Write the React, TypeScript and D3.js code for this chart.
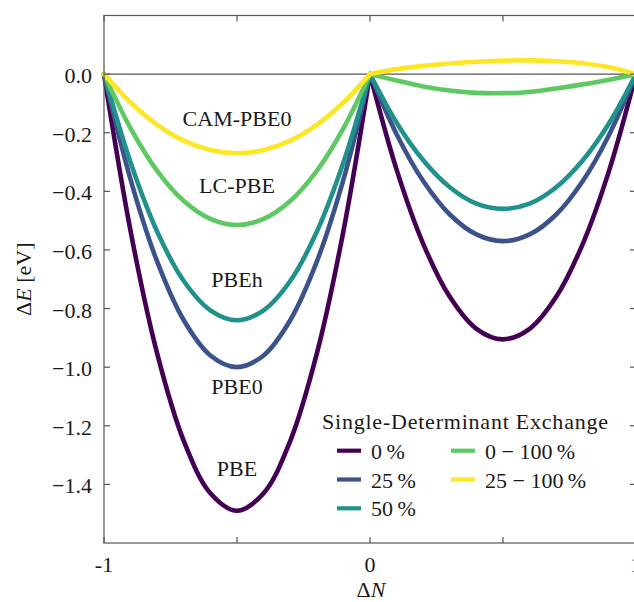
import React from "react";
import * as d3 from "d3";

const X_LEFT = [-1, -0.9, -0.8, -0.7, -0.6, -0.5, -0.4, -0.3, -0.2, -0.1, 0];
const X_RIGHT = [0, 0.1, 0.2, 0.3, 0.4, 0.5, 0.6, 0.7, 0.8, 0.9, 1];

const PBE_LEFT = [0, -0.536, -0.954, -1.252, -1.43, -1.49, -1.43, -1.252, -0.954, -0.536, 0];
const PBE_RIGHT = [0, -0.326, -0.579, -0.76, -0.869, -0.905, -0.869, -0.76, -0.579, -0.326, 0];
const PBE0_LEFT = [0, -0.36, -0.64, -0.84, -0.96, -1.0, -0.96, -0.84, -0.64, -0.36, 0];
const PBE0_RIGHT = [0, -0.205, -0.365, -0.479, -0.547, -0.57, -0.547, -0.479, -0.365, -0.205, 0];
const PBEH_LEFT = [0, -0.302, -0.538, -0.706, -0.806, -0.84, -0.806, -0.706, -0.538, -0.302, 0];
const PBEH_RIGHT = [0, -0.166, -0.294, -0.386, -0.442, -0.46, -0.442, -0.386, -0.294, -0.166, 0];
const LCPBE_LEFT = [0, -0.185, -0.33, -0.433, -0.494, -0.515, -0.494, -0.433, -0.33, -0.185, 0];
const LCPBE_RIGHT = [0, -0.022, -0.042, -0.056, -0.064, -0.065, -0.061, -0.049, -0.035, -0.019, 0];
const CAM_LEFT = [0, -0.097, -0.173, -0.227, -0.259, -0.27, -0.259, -0.227, -0.173, -0.097, 0];
const CAM_RIGHT = [0, 0.017, 0.028, 0.036, 0.042, 0.046, 0.047, 0.044, 0.037, 0.023, 0];

const SERIES_NAMES = ["0 %", "25 %", "50 %", "0 − 100 %", "25 − 100 %"];
const SERIES_COLORS = ["#440154", "#3b528b", "#21918c", "#5ec962", "#fde725"];
const SERIES_LEFT = [PBE_LEFT, PBE0_LEFT, PBEH_LEFT, LCPBE_LEFT, CAM_LEFT];
const SERIES_RIGHT = [PBE_RIGHT, PBE0_RIGHT, PBEH_RIGHT, LCPBE_RIGHT, CAM_RIGHT];

const CURVE_LABELS = ["PBE", "PBE0", "PBEh", "LC-PBE", "CAM-PBE0"];
const CURVE_LABEL_X = [-0.5, -0.5, -0.5, -0.5, -0.5];
const CURVE_LABEL_Y = [-1.373, -1.093, -0.725, -0.405, -0.176];

const Y_TICKS = [0.0, -0.2, -0.4, -0.6, -0.8, -1.0, -1.2, -1.4];
const X_TICKS = [-1, -0.5, 0, 0.5, 1];
const X_TICK_LABELS = ["-1", "", "0", "", "1"];

const W = 634;
const H = 602;
const FONT = '"Liberation Serif", "DejaVu Serif", serif';

export default function App() {
  const left = 104, right = 636, top = 15.5, bottom = 543;
  const x = d3.scaleLinear().domain([-1, 1]).range([left, right]);
  const y = d3.scaleLinear().domain([-1.6, 0.2]).range([bottom, top]);
  const line = d3
    .line<[number, number]>()
    .x((d) => x(d[0]))
    .y((d) => y(d[1]))
    .curve(d3.curveCatmullRom.alpha(0.5));

  const spine = "#555";
  const txt = "#1a1a1a";
  const fs = 22;
  const ts: React.CSSProperties = { fontFamily: FONT, fontSize: fs };

  const legendRows = [
    { i: 0, col: 0, row: 0 },
    { i: 1, col: 0, row: 1 },
    { i: 2, col: 0, row: 2 },
    { i: 3, col: 1, row: 0 },
    { i: 4, col: 1, row: 1 },
  ];
  const legColX = [337, 451];
  const legRowY = [450.7, 479.5, 508.3];

  return (
    <svg
      width={W}
      height={H}
      style={{ position: "absolute", left: 0, top: 0, background: "#fff", fontFamily: FONT }}
    >
      <rect x={0} y={0} width={W} height={H} fill="#fff" />
      <line x1={left} x2={right} y1={y(0)} y2={y(0)} stroke="#555" strokeWidth={1.1} />

      {SERIES_LEFT.map((s, i) => (
        <g key={i}>
          <path
            d={line(X_LEFT.map((xv, j) => [xv, s[j]]) as [number, number][]) || ""}
            fill="none"
            stroke={SERIES_COLORS[i]}
            strokeWidth={4.6}
            strokeLinejoin="round"
            strokeLinecap="round"
          />
          <path
            d={line(X_RIGHT.map((xv, j) => [xv, SERIES_RIGHT[i][j]]) as [number, number][]) || ""}
            fill="none"
            stroke={SERIES_COLORS[i]}
            strokeWidth={4.6}
            strokeLinejoin="round"
            strokeLinecap="round"
          />
        </g>
      ))}

      <rect x={left} y={top} width={right - left} height={bottom - top} fill="none" stroke={spine} strokeWidth={1.2} />

      {Y_TICKS.map((t) => (
        <g key={t}>
          <line x1={left} x2={left + 6} y1={y(t)} y2={y(t)} stroke={spine} strokeWidth={1.2} />
          <line x1={right - 6} x2={right} y1={y(t)} y2={y(t)} stroke={spine} strokeWidth={1.2} />
          <text x={92} y={y(t) + 9} textAnchor="end" style={ts} fill={txt}>
            {t === 0 ? "0.0" : "\u2212" + Math.abs(t).toFixed(1)}
          </text>
        </g>
      ))}

      {X_TICKS.map((t, i) => (
        <g key={t}>
          <line x1={x(t)} x2={x(t)} y1={bottom} y2={bottom - 6} stroke={spine} strokeWidth={1.2} />
          <line x1={x(t)} x2={x(t)} y1={top} y2={top + 6} stroke={spine} strokeWidth={1.2} />
          {X_TICK_LABELS[i] && (
            <text x={x(t)} y={572} textAnchor="middle" style={ts} fill={txt}>
              {X_TICK_LABELS[i]}
            </text>
          )}
        </g>
      ))}

      {CURVE_LABELS.map((lab, i) => (
        <text key={lab} x={x(CURVE_LABEL_X[i])} y={y(CURVE_LABEL_Y[i])} textAnchor="middle" style={ts} fill={txt}>
          {lab}
        </text>
      ))}

      <text x={371} y={597} textAnchor="middle" style={ts} fill={txt}>
        Δ<tspan fontStyle="italic">N</tspan>
      </text>
      <text transform={`translate(31,${(top + bottom) / 2}) rotate(-90)`} textAnchor="middle" style={ts} fill={txt}>
        Δ<tspan fontStyle="italic">E</tspan> [eV]
      </text>

      <text x={322} y={429} style={ts} fill={txt} textLength={286} lengthAdjust="spacing">
        Single-Determinant Exchange
      </text>
      {legendRows.map((r) => (
        <g key={r.i}>
          <line
            x1={legColX[r.col]}
            x2={legColX[r.col] + 24}
            y1={legRowY[r.row]}
            y2={legRowY[r.row]}
            stroke={SERIES_COLORS[r.i]}
            strokeWidth={4.2}
          />
          <text x={legColX[r.col] + 34} y={legRowY[r.row] + 8} style={ts} fill={txt}>
            {SERIES_NAMES[r.i].replace(" %", "\u2009%")}
          </text>
        </g>
      ))}
    </svg>
  );
}
